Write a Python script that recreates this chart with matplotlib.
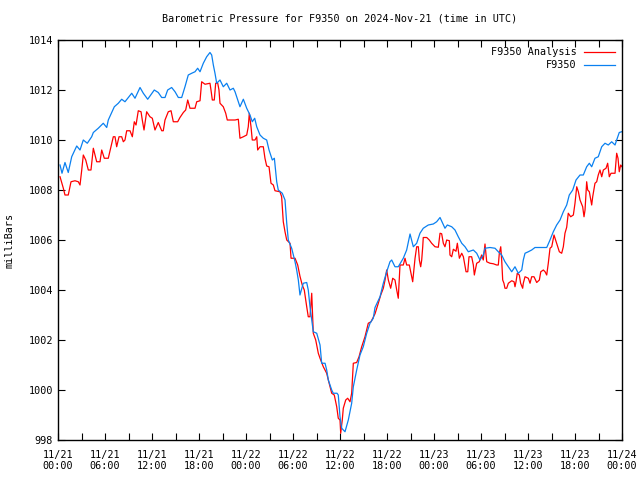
import numpy as np
import matplotlib
matplotlib.use("Agg")
import matplotlib.pyplot as plt

# hours since 2024-11-21 00:00 UTC, pressure in mbar
blue_hours = [0.26, 0.51, 0.89, 1.31, 1.75, 2.39, 2.81, 3.23, 3.74, 4.30, 4.51, 5.14, 5.78, 6.22, 6.42,
              7.19, 7.70, 8.13, 8.55, 9.41, 9.83, 10.47, 10.89, 11.45, 12.29, 12.80, 13.24, 13.66, 14.00,
              14.51, 14.94, 15.36, 15.79, 16.21, 16.63, 17.07, 17.49, 17.83, 18.13, 18.55, 18.98, 19.40,
              19.62, 19.83, 20.04, 20.26, 20.68, 21.10, 21.54, 21.96, 22.38, 22.60, 23.02, 23.23, 23.66,
              24.09, 24.51, 24.80, 25.11, 25.37, 25.79, 26.21, 26.64, 26.94, 27.36, 27.62, 27.92, 28.12,
              28.63, 28.98, 29.20, 29.40, 29.83, 30.26, 30.47, 30.68, 30.89, 31.31, 31.75, 31.95, 32.17,
              32.59, 33.03, 33.45, 33.66, 34.09, 34.30, 34.51, 34.94, 35.14, 35.62, 35.78, 36.00, 36.22,
              36.64, 37.06, 37.49, 37.70, 38.13, 38.55, 38.97, 39.41, 39.83, 40.25, 40.47, 41.11, 41.53,
              41.96, 42.38, 42.60, 43.02, 43.44, 44.08, 44.51, 44.94, 45.36, 45.79, 46.21, 46.63, 47.27,
              47.91, 48.34, 48.77, 49.11, 49.40, 49.70, 50.26, 50.68, 51.10, 51.54, 51.96, 52.38, 53.02,
              53.45, 53.87, 54.29, 54.51, 55.15, 55.79, 56.21, 56.64, 57.06, 57.49, 57.92, 58.34, 58.76,
              59.20, 59.40, 59.62, 60.04, 60.47, 60.89, 62.39, 62.81, 63.23, 63.66, 64.09, 64.51, 64.94,
              65.27, 65.71, 66.13, 66.64, 67.06, 67.49, 67.83, 68.13, 68.55, 68.97, 69.41, 69.83, 70.25,
              70.68, 71.11, 71.32, 71.65, 71.96]
blue_mbar = [1009.0, 1008.67, 1009.1, 1008.7, 1009.33, 1009.76, 1009.6, 1010.0, 1009.87, 1010.13, 1010.3,
             1010.47, 1010.67, 1010.5, 1010.8, 1011.33, 1011.47, 1011.63, 1011.53, 1011.87, 1011.67,
             1012.1, 1011.87, 1011.63, 1012.0, 1011.9, 1011.7, 1011.7, 1012.0, 1012.1, 1011.93, 1011.7,
             1011.7, 1012.13, 1012.6, 1012.67, 1012.73, 1012.87, 1012.73, 1013.07, 1013.33, 1013.5,
             1013.4, 1013.0, 1012.67, 1012.27, 1012.4, 1012.13, 1012.27, 1012.0, 1012.07, 1011.93,
             1011.53, 1011.33, 1011.63, 1011.27, 1011.0, 1010.73, 1010.87, 1010.53, 1010.2, 1010.07,
             1010.0, 1009.6, 1009.2, 1009.27, 1008.33, 1008.0, 1007.87, 1007.6, 1006.67, 1006.0,
             1005.67, 1005.13, 1004.8, 1004.4, 1003.8, 1004.27, 1004.3, 1004.0, 1003.33, 1002.33,
             1002.27, 1001.8, 1001.07, 1001.07, 1000.8, 1000.4, 1000.0, 999.87, 999.87, 999.8, 998.93,
             998.47, 998.33, 998.8, 999.47, 1000.13, 1000.8, 1001.4, 1001.73, 1002.27, 1002.67, 1002.87,
             1003.3, 1003.73, 1004.27, 1004.73, 1005.13, 1005.2, 1004.93, 1004.93, 1005.27, 1005.6,
             1006.24, 1005.73, 1005.87, 1006.27, 1006.47, 1006.6, 1006.64, 1006.73, 1006.9, 1006.67,
             1006.47, 1006.6, 1006.53, 1006.4, 1006.13, 1005.87, 1005.73, 1005.53, 1005.6, 1005.47,
             1005.2, 1005.4, 1005.67, 1005.7, 1005.67, 1005.53, 1005.4, 1005.13, 1004.93, 1004.73,
             1004.93, 1004.67, 1004.8, 1005.2, 1005.47, 1005.53, 1005.6, 1005.7, 1005.7, 1006.0,
             1006.33, 1006.6, 1006.8, 1007.13, 1007.4, 1007.8, 1008.0, 1008.4, 1008.6, 1008.6, 1008.93,
             1009.07, 1008.93, 1009.27, 1009.33, 1009.73, 1009.87, 1009.8, 1009.93, 1009.8, 1010.0,
             1010.3, 1010.33]

red_hours = [0.26, 0.68, 0.89, 1.31, 1.66, 2.17, 2.59, 2.81, 3.03, 3.23, 3.54, 3.87, 4.21, 4.51, 4.94,
             5.36, 5.58, 5.91, 6.42, 6.77, 7.06, 7.28, 7.49, 7.79, 8.13, 8.34, 8.55, 8.77, 9.19, 9.49,
             9.74, 9.96, 10.25, 10.60, 10.76, 10.98, 11.32, 11.74, 12.04, 12.38, 12.80, 13.02, 13.24,
             13.44, 13.66, 14.08, 14.43, 14.72, 15.28, 15.57, 16.00, 16.30, 16.56, 16.85, 17.49, 17.71,
             18.13, 18.34, 18.77, 19.40, 19.53, 19.70, 19.95, 20.13, 20.39, 20.55, 20.68, 21.10, 21.41,
             21.61, 22.60, 23.02, 23.23, 23.66, 24.09, 24.29, 24.42, 24.64, 24.80, 25.15, 25.37, 25.49,
             25.79, 26.21, 26.42, 26.64, 26.94, 27.19, 27.49, 27.70, 28.34, 28.55, 28.76, 28.98, 29.20,
             29.62, 29.75, 30.26, 30.60, 30.89, 31.18, 31.44, 31.75, 31.95, 32.17, 32.39, 32.59, 32.90,
             33.23, 33.45, 33.87, 34.30, 34.51, 34.94, 35.27, 35.58, 35.78, 36.00, 36.09, 36.29, 36.42,
             36.73, 36.98, 37.28, 37.49, 37.70, 38.13, 38.43, 38.77, 39.19, 39.61, 39.96, 40.47, 40.89,
             41.20, 41.53, 41.75, 41.96, 42.17, 42.47, 42.73, 43.02, 43.24, 43.44, 43.66, 44.08, 44.30,
             44.51, 44.85, 45.02, 45.28, 45.58, 45.79, 46.00, 46.13, 46.30, 46.43, 46.56, 46.63, 47.07,
             47.40, 47.70, 48.13, 48.55, 48.77, 48.98, 49.19, 49.40, 49.62, 49.96, 50.04, 50.26, 50.47,
             50.81, 50.98, 51.24, 51.54, 51.75, 52.09, 52.31, 52.47, 52.81, 53.02, 53.15, 53.45, 53.78,
             54.08, 54.29, 54.51, 54.73, 55.15, 55.57, 56.00, 56.21, 56.34, 56.52, 56.64, 56.77, 56.93,
             57.06, 57.28, 57.49, 57.92, 58.22, 58.34, 58.47, 58.63, 58.89, 59.06, 59.32, 59.40, 59.62,
             60.04, 60.26, 60.47, 60.77, 61.11, 61.45, 61.63, 61.96, 62.18, 62.39, 62.59, 62.81, 63.03,
             63.32, 63.66, 64.00, 64.30, 64.51, 64.72, 64.94, 65.14, 65.45, 65.79, 66.00, 66.22, 66.43,
             66.64, 66.98, 67.15, 67.28, 67.49, 67.62, 67.83, 68.13, 68.26, 68.55, 68.77, 68.97, 69.19,
             69.41, 69.62, 69.96, 70.17, 70.38, 70.60, 70.89, 71.11, 71.32, 71.49, 71.65, 71.83, 72.0]
red_mbar = [1008.53, 1008.07, 1007.8, 1007.8, 1008.33, 1008.37, 1008.33, 1008.2, 1008.8, 1009.4, 1009.2,
            1008.8, 1008.8, 1009.67, 1009.13, 1009.13, 1009.6, 1009.27, 1009.27, 1009.73, 1010.13,
            1010.13, 1009.73, 1010.13, 1010.13, 1009.93, 1010.0, 1010.37, 1010.37, 1010.13, 1010.73,
            1010.6, 1011.17, 1011.13, 1010.8, 1010.4, 1011.13, 1010.93, 1010.87, 1010.4, 1010.7,
            1010.53, 1010.37, 1010.37, 1010.8, 1011.13, 1011.17, 1010.73, 1010.73, 1010.9, 1011.1,
            1011.2, 1011.6, 1011.27, 1011.27, 1011.53, 1011.57, 1012.33, 1012.23, 1012.27, 1012.0,
            1011.6, 1011.6, 1012.27, 1012.27, 1012.0, 1011.47, 1011.33, 1011.07, 1010.8, 1010.8,
            1010.83, 1010.07, 1010.13, 1010.2, 1010.53, 1011.07, 1010.53, 1010.0, 1010.0, 1010.13,
            1009.6, 1009.73, 1009.73, 1009.27, 1008.96, 1008.93, 1008.27, 1008.2, 1007.97, 1007.93,
            1007.73, 1006.73, 1006.33, 1006.0, 1005.87, 1005.27, 1005.27, 1005.0, 1004.55, 1004.2,
            1004.0, 1003.33, 1002.93, 1002.93, 1003.87, 1002.27, 1002.0, 1001.47, 1001.27, 1000.93,
            1000.67, 1000.4, 999.87, 999.8, 999.33, 998.87, 998.8, 998.27, 998.8, 999.27, 999.6, 999.67,
            999.53, 999.87, 1001.07, 1001.1, 1001.33, 1001.73, 1002.13, 1002.67, 1002.73, 1003.05,
            1003.47, 1003.8, 1004.07, 1004.4, 1004.8, 1004.4, 1004.07, 1004.47, 1004.4, 1004.0,
            1003.67, 1005.0, 1005.0, 1005.27, 1005.0, 1005.0, 1004.73, 1004.33, 1005.27, 1005.73,
            1005.73, 1005.2, 1004.93, 1005.2, 1005.73, 1006.1, 1006.1, 1006.0, 1005.87, 1005.73,
            1005.71, 1006.27, 1006.25, 1005.87, 1005.73, 1006.0, 1005.97, 1005.4, 1005.33, 1005.63,
            1005.55, 1005.87, 1005.27, 1005.47, 1005.33, 1004.73, 1004.73, 1005.33, 1005.33, 1005.0,
            1004.6, 1005.07, 1005.13, 1005.4, 1005.2, 1005.84, 1005.13, 1005.07, 1005.05, 1005.0,
            1005.0, 1005.47, 1005.73, 1005.2, 1004.4, 1004.27, 1004.07, 1004.07, 1004.27, 1004.37,
            1004.33, 1004.13, 1004.33, 1004.67, 1004.6, 1004.27, 1004.07, 1004.27, 1004.53, 1004.47,
            1004.27, 1004.53, 1004.53, 1004.3, 1004.4, 1004.73, 1004.8, 1004.73, 1004.6, 1005.07,
            1005.67, 1005.73, 1006.2, 1005.87, 1005.53, 1005.47, 1005.73, 1006.27, 1006.51, 1007.07,
            1006.93, 1007.0, 1007.47, 1008.13, 1007.93, 1007.6, 1007.33, 1006.93, 1007.2, 1008.33,
            1008.0, 1007.93, 1007.4, 1007.73, 1008.27, 1008.33, 1008.6, 1008.8, 1008.53, 1008.8,
            1008.87, 1009.07, 1008.53, 1008.67, 1008.67, 1008.67, 1009.47, 1009.27, 1008.73, 1009.0,
            1008.93]

tick_hours = [0, 6, 12, 18, 24, 30, 36, 42, 48, 54, 60, 66, 72]
tick_labels = ["11/21\n00:00", "11/21\n06:00", "11/21\n12:00", "11/21\n18:00",
               "11/22\n00:00", "11/22\n06:00", "11/22\n12:00", "11/22\n18:00",
               "11/23\n00:00", "11/23\n06:00", "11/23\n12:00", "11/23\n18:00",
               "11/24\n00:00"]

plt.rcParams['font.family'] = 'DejaVu Sans Mono'
plt.rcParams['font.size'] = 7.3

fig = plt.figure(figsize=(6.4, 4.8), dpi=100)
ax = fig.add_axes([58/640, 40/480, 564/640, 400/480])

ax.plot(red_hours, red_mbar, color='#ff0000', lw=0.9, label='F9350 Analysis')
ax.plot(blue_hours, blue_mbar, color='#0a80f0', lw=0.9, label='F9350')

ax.set_xlim(0, 72)
ax.set_ylim(998, 1014)
ax.set_xticks(tick_hours)
ax.set_xticklabels(tick_labels)
ax.set_xticks(np.arange(3, 72, 6), minor=True)
ax.set_yticks(np.arange(998, 1015, 2))
ax.tick_params(which='both', direction='in', top=True, right=True, length=5, width=0.8)
ax.tick_params(axis='x', pad=7)
for s in ax.spines.values():
    s.set_linewidth(1)

ax.set_ylabel('milliBars', labelpad=10)
ax.set_title('Barometric Pressure for F9350 on 2024-Nov-21 (time in UTC)', fontsize=7.3, pad=13)
ax.legend(loc='upper right', frameon=False, markerfirst=False, handlelength=3,
          borderaxespad=0.3, labelspacing=0.3)

fig.savefig('out.png', dpi=100)
